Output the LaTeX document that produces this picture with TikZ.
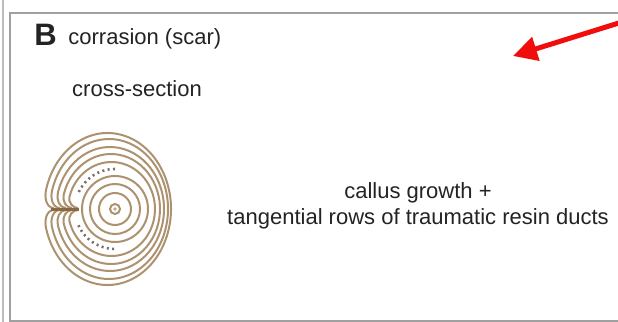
\documentclass[tikz,border=0pt]{standalone}
\usepackage{fontspec}
\setmainfont{Liberation Sans}
\usepackage{tikz}
\usetikzlibrary{arrows.meta}
\definecolor{ringtan}{HTML}{AD9270}
\definecolor{scarbrown}{HTML}{8A6842}
\definecolor{ductgray}{HTML}{7A7066}
\definecolor{framegray}{HTML}{A0A0A0}
\definecolor{textdark}{HTML}{232323}
\definecolor{arrowred}{HTML}{F20D0D}
\tikzset{every node/.append style={font=\fontsize{11}{13}\selectfont,text=textdark,inner sep=0pt},
  ring/.style={ringtan,line width=1pt},
  duct/.style={ductgray,line width=1.3pt,dash pattern=on 1pt off 1.7pt}}

\begin{document}
\begin{tikzpicture}[>=Stealth,x=0.5pt,y=0.5pt]
  \useasboundingbox (0,0) rectangle (618,-322);
  % panel frame (open to the right) and the edge of the neighbouring panel
  \draw[framegray!70,line width=0.9pt] (3,0)--(3,-322);
  \draw[framegray,line width=1.2pt] (618,-13)--(10,-13)--(10,-321)--(618,-321);
  \node[font=\fontsize{15.5}{15}\selectfont\bfseries,anchor=base west] (panel) at (34,-45) {B};
  \node[anchor=base west] (title) at (68,-44) {corrasion (scar)};
  \node[anchor=base] (xsec) at (137,-96) {cross-section};
  \node[align=center] (callus) at (418,-206) {callus growth +\\tangential rows of traumatic resin ducts};
  % rings laid down before the wound, around the pith
  \fill[ringtan!80] (115,-209) circle (1.8);
  \draw[ring] (115,-209) circle (5);
  \foreach \r in {16,25,33}
    \draw[ring] (115,-209) circle (\r);
  % traumatic resin ducts in the first ring after wounding
  \draw[duct] (115,-209) ++(90:40) arc[start angle=90,end angle=156,radius=40];
  \draw[duct] (115,-209) ++(204:40) arc[start angle=204,end angle=270,radius=40];
  % callus rings, rolling into the scar from both sides
  % (\ax,\ay) is the point at 165 degrees on each ellipse
  \foreach \cx/\rx/\ry/\ax/\ay/\xe in {111.5/43.5/47/42.02/12.16/78,
      111/49/55/47.33/14.23/72,110/54/62/52.16/16.05/66,
      109/59/70/56.99/18.12/60,107.5/63.5/76/61.33/19.67/54}
    \draw[ring,shift={(\cx,-209)}] ({\xe-\cx},1) to[out=180,in=-104] (-\ax,\ay)
      arc[start angle=165,end angle=-165,x radius=\rx,y radius=\ry]
      to[out=104,in=180] ({\xe-\cx},-1);
  \draw[scarbrown,line width=1.5pt] (51,-209)--(79,-209);
  \coordinate (arrowtail) at (622,-22);
  \coordinate (arrowtip) at (513,-56);
  \draw[arrowred,line width=2.5pt,-{Triangle[length=12pt,width=12pt]}] (arrowtail)--(arrowtip);
\end{tikzpicture}
\end{document}
